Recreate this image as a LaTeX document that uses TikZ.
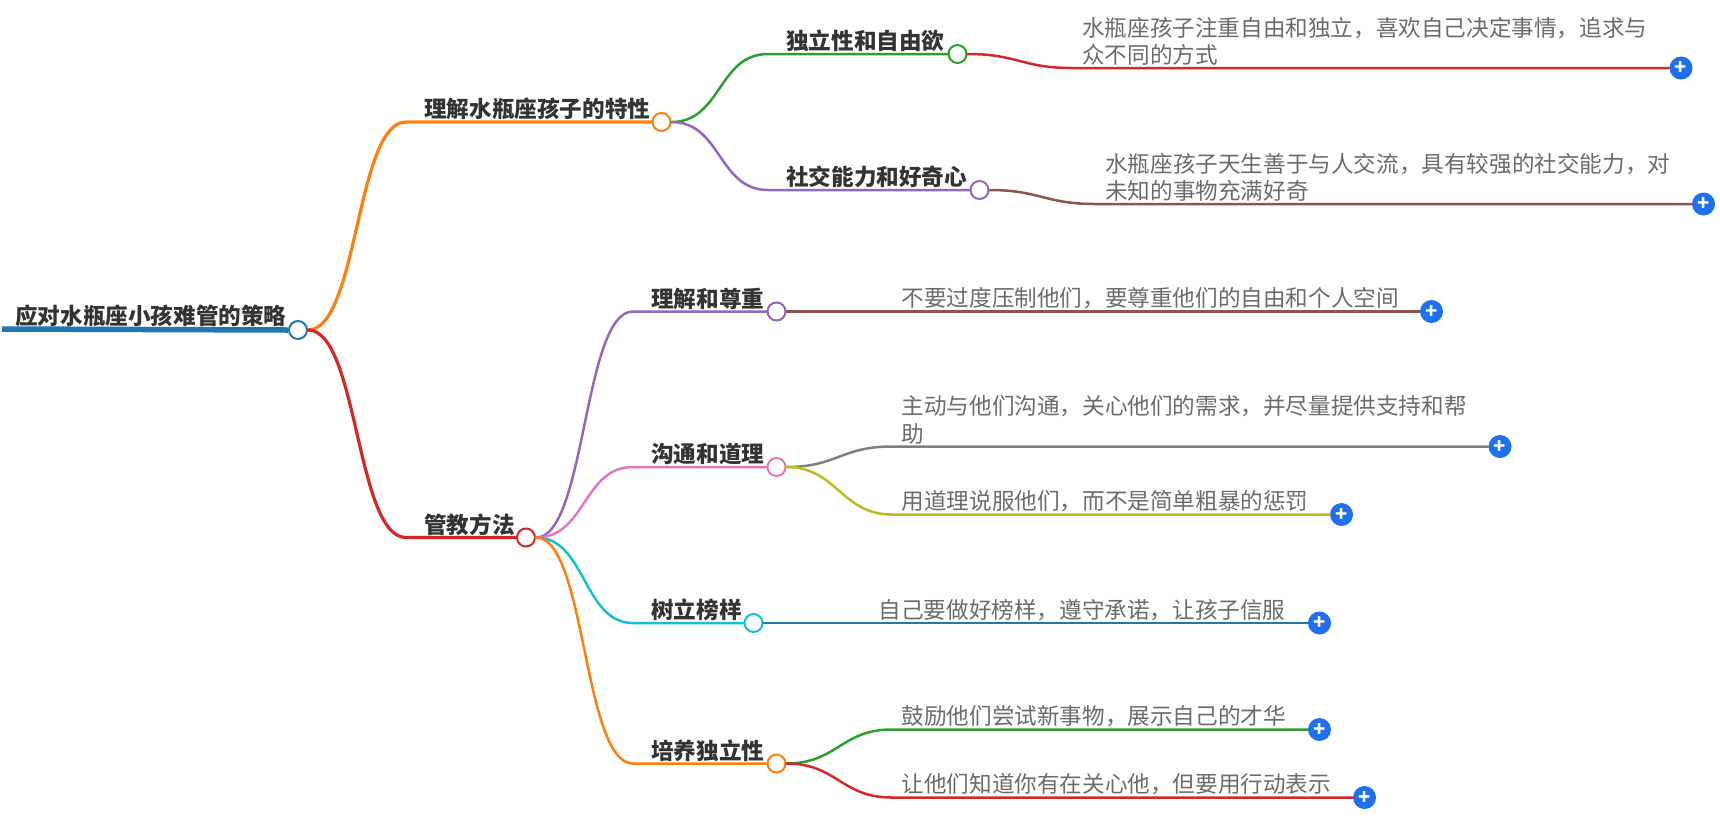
\documentclass[tikz,border=0pt]{standalone}
\usepackage{fontspec}
\setmainfont{Noto Sans CJK SC}
\usetikzlibrary{calc}
\definecolor{cblue}{HTML}{1F77B4}
\definecolor{corange}{HTML}{FF7F0E}
\definecolor{cgreen}{HTML}{2CA02C}
\definecolor{cred}{HTML}{D62728}
\definecolor{cpurple}{HTML}{9467BD}
\definecolor{cbrown}{HTML}{8C564B}
\definecolor{cpink}{HTML}{E377C2}
\definecolor{cgray}{HTML}{7F7F7F}
\definecolor{colive}{HTML}{BCBD22}
\definecolor{cteal}{HTML}{17BECF}
\definecolor{btnblue}{HTML}{1E6FF1}
\tikzset{
  dot/.style={circle, draw=#1, fill=white, line width=2pt, minimum size=18pt, inner sep=0pt},
  head/.style={anchor=south west, inner xsep=18pt, inner ysep=2pt, text=black!80, font=\fontsize{22.6}{27}\selectfont\bfseries},
  leaf/.style={anchor=south west, inner xsep=10pt, inner ysep=2pt, align=left, text=black!58, font=\fontsize{22.6}{27.5}\selectfont},
  btn/.style={circle, fill=btnblue, text=white, minimum size=23pt, inner sep=0pt, font=\fontsize{20}{20}\selectfont\bfseries},
  link/.style={line width=#1, line cap=round},
}
\newcommand{\curveto}[3]{(#1.east) .. controls +(#3,0) and ($(#2.south west)-(#3,0)$) .. (#2.south west)}
\begin{document}
\begin{tikzpicture}[x=1pt, y=-1pt]
    \useasboundingbox (0,0) rectangle (1720,815);

    % Root
    \node[head, inner xsep=13pt] (root) at (2,329) {应对水瓶座小孩难管的策略};
    \node[dot=cblue] (rootdot) at (298,330) {};

    % First level
    \node[head] (under) at (406,122) {理解水瓶座孩子的特性};
    \node[dot=corange] (underdot) at (661.5,122) {};
    \node[head] (manage) at (406,537.5) {管教方法};
    \node[dot=cred] (managedot) at (526,537.5) {};

    % Second level, top
    \node[head] (free) at (768,54) {独立性和自由欲};
    \node[dot=cgreen] (freedot) at (957.5,54) {};
    \node[head] (social) at (768,190) {社交能力和好奇心};
    \node[dot=cpurple] (socialdot) at (979.5,190) {};

    % Second level, bottom
    \node[head] (respect) at (633,311.5) {理解和尊重};
    \node[dot=cpurple] (respectdot) at (776.5,311.5) {};
    \node[head] (talk) at (633,467) {沟通和道理};
    \node[dot=cpink] (talkdot) at (776.5,467) {};
    \node[head] (model) at (633,623) {树立榜样};
    \node[dot=cteal] (modeldot) at (753.5,623) {};
    \node[head] (self) at (633,763.5) {培养独立性};
    \node[dot=corange] (selfdot) at (776.5,763.5) {};

    % Leaves
    \node[leaf] (freetxt) at (1072,68) {水瓶座孩子注重自由和独立，喜欢自己决定事情，追求与\\众不同的方式};
    \node[btn] (freebtn) at (1681,68) {+};
    \node[leaf] (socialtxt) at (1095,204) {水瓶座孩子天生善于与人交流，具有较强的社交能力，对\\未知的事物充满好奇};
    \node[btn] (socialbtn) at (1703.5,204) {+};
    \node[leaf] (respecttxt) at (891.5,311.5) {不要过度压制他们，要尊重他们的自由和个人空间};
    \node[btn] (respectbtn) at (1431.5,311.5) {+};
    \node[leaf] (talktxta) at (891.5,446.5) {主动与他们沟通，关心他们的需求，并尽量提供支持和帮\\助};
    \node[btn] (talkbtna) at (1500,446.5) {+};
    \node[leaf] (talktxtb) at (891.5,514.5) {用道理说服他们，而不是简单粗暴的惩罚};
    \node[btn] (talkbtnb) at (1341.5,514.5) {+};
    \node[leaf] (modeltxt) at (868.5,623) {自己要做好榜样，遵守承诺，让孩子信服};
    \node[btn] (modelbtn) at (1319.5,623) {+};
    \node[leaf] (selftxta) at (891.5,729.5) {鼓励他们尝试新事物，展示自己的才华};
    \node[btn] (selfbtna) at (1319.5,729.5) {+};
    \node[leaf] (selftxtb) at (891.5,797.5) {让他们知道你有在关心他，但要用行动表示};
    \node[btn] (selfbtnb) at (1364.5,797.5) {+};

    % Edges
    \draw[cblue, line width=5.5pt] (root.south west) -- (rootdot.west);
    \draw[link=3.2pt, corange] \curveto{rootdot}{under}{50pt} -- (underdot.west);
    \draw[link=3.2pt, cred] \curveto{rootdot}{manage}{50pt} -- (managedot.west);
    \draw[link=2.5pt, cgreen] \curveto{underdot}{free}{50pt} -- (freedot.west);
    \draw[link=2.5pt, cpurple] \curveto{underdot}{social}{50pt} -- (socialdot.west);
    \draw[link=2.5pt, cpurple] \curveto{managedot}{respect}{50pt} -- (respectdot.west);
    \draw[link=2.5pt, cpink] \curveto{managedot}{talk}{50pt} -- (talkdot.west);
    \draw[link=2.5pt, cteal] \curveto{managedot}{model}{50pt} -- (modeldot.west);
    \draw[link=2.5pt, corange] \curveto{managedot}{self}{50pt} -- (selfdot.west);
    \draw[link=2.5pt, cred] \curveto{freedot}{freetxt}{50pt} -- (freebtn.west);
    \draw[link=2.5pt, cbrown] \curveto{socialdot}{socialtxt}{50pt} -- (socialbtn.west);
    \draw[link=2.5pt, cbrown] \curveto{respectdot}{respecttxt}{50pt} -- (respectbtn.west);
    \draw[link=2.5pt, cgray] \curveto{talkdot}{talktxta}{50pt} -- (talkbtna.west);
    \draw[link=2.5pt, colive] \curveto{talkdot}{talktxtb}{50pt} -- (talkbtnb.west);
    \draw[link=2.5pt, cblue] \curveto{modeldot}{modeltxt}{50pt} -- (modelbtn.west);
    \draw[link=2.5pt, cgreen] \curveto{selfdot}{selftxta}{50pt} -- (selfbtna.west);
    \draw[link=2.5pt, cred] \curveto{selfdot}{selftxtb}{50pt} -- (selfbtnb.west);

\end{tikzpicture}
\end{document}
